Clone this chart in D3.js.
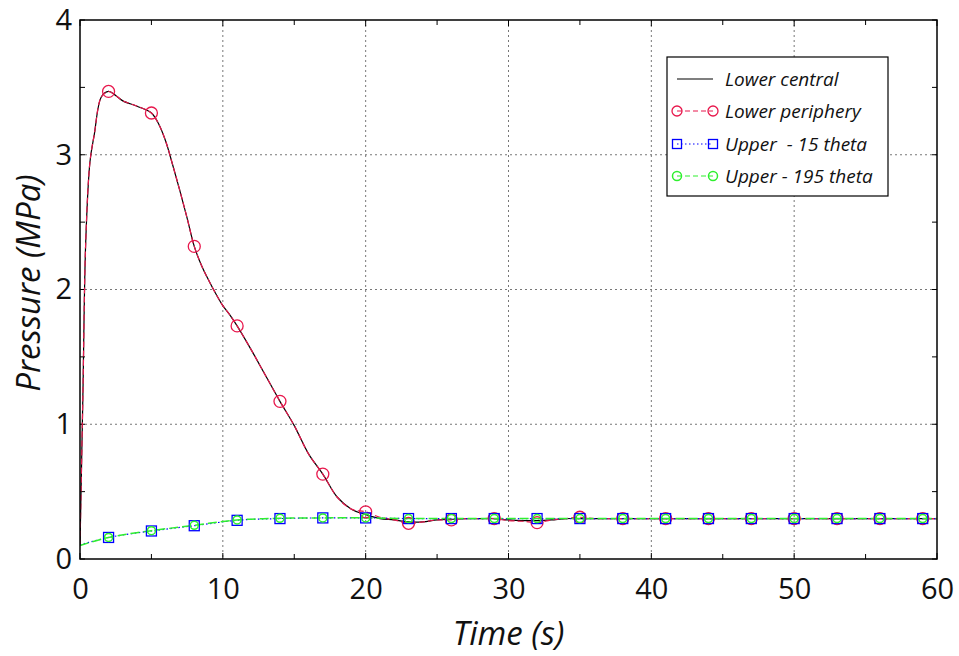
<!DOCTYPE html>
<html><head><meta charset="utf-8">
<script src="https://cdn.jsdelivr.net/npm/d3@7"></script>
<style>
body{margin:0;background:#fff;}
svg{display:block;}
text{font-family:"Open Sans","DejaVu Sans",sans-serif;}
</style></head>
<body><svg id="c" width="959" height="656"></svg>
<script>
// ---- data ----
const lowerTime = [0,0.2,0.4,0.7,1,1.5,2,2.5,3,4,5,5.5,6,6.5,7,7.5,8,8.5,9,9.5,10,10.5,11,12,13,14,15,16,17,18,19,20,21,22,23,24,25,26,27,28,29,30,31,32,33,34,35,36,37,38,39,40,41,42,43,44,45,46,47,48,49,50,51,52,53,54,55,56,57,58,59,60];
const lowerCentral = [0.10,1.20,2.35,2.95,3.15,3.43,3.47,3.44,3.40,3.36,3.31,3.23,3.10,2.92,2.73,2.53,2.32,2.18,2.07,1.97,1.88,1.81,1.73,1.55,1.36,1.17,0.99,0.78,0.63,0.46,0.37,0.33,0.30,0.29,0.275,0.275,0.29,0.295,0.30,0.30,0.30,0.29,0.285,0.285,0.29,0.30,0.30,0.30,0.30,0.30,0.30,0.30,0.30,0.30,0.30,0.30,0.30,0.30,0.30,0.30,0.30,0.30,0.30,0.30,0.30,0.30,0.30,0.30,0.30,0.30,0.30,0.30];
const lowerPeriphery = [0.10,1.20,2.35,2.95,3.15,3.43,3.47,3.44,3.40,3.36,3.31,3.23,3.10,2.92,2.73,2.53,2.32,2.18,2.07,1.97,1.88,1.81,1.73,1.55,1.36,1.17,0.99,0.78,0.63,0.46,0.37,0.35,0.31,0.29,0.265,0.275,0.29,0.29,0.30,0.30,0.30,0.285,0.28,0.27,0.29,0.30,0.31,0.30,0.30,0.30,0.30,0.30,0.30,0.30,0.30,0.30,0.30,0.30,0.30,0.30,0.30,0.30,0.30,0.30,0.30,0.30,0.30,0.30,0.30,0.30,0.30,0.30];
const upperTime = [0,2,5,8,11,14,17,20,23,26,29,32,35,38,41,44,47,50,53,56,59,60];
const upper15 = [0.105,0.16,0.208,0.247,0.287,0.300,0.305,0.305,0.30,0.30,0.30,0.30,0.30,0.30,0.30,0.30,0.30,0.30,0.30,0.30,0.30,0.30];
const upper195 = [0.100,0.16,0.210,0.250,0.290,0.302,0.305,0.305,0.30,0.30,0.30,0.30,0.30,0.30,0.30,0.30,0.30,0.30,0.30,0.30,0.30,0.30];
const markerTimes = [2,5,8,11,14,17,20,23,26,29,32,35,38,41,44,47,50,53,56,59];
const xTicks = [0,10,20,30,40,50,60];
const yTicks = [0,1,2,3,4];
const seriesNames = ["Lower central","Lower periphery","Upper  - 15 theta","Upper - 195 theta"];
const xLabel = "Time (s)";
const yLabel = "Pressure (MPa)";

// ---- layout ----
const svg = d3.select("#c");
const L=80, R=937, T=20, B=559;
const x = d3.scaleLinear().domain([0,60]).range([L,R]);
const y = d3.scaleLinear().domain([0,4]).range([B,T]);
const red="#e8174c", blue="#0000ff", green="#2ef02e";

// grid
const grid = svg.append("g").attr("stroke","#777").attr("stroke-width",1).attr("stroke-dasharray","2,3");
xTicks.slice(1,-1).forEach(v=>grid.append("line").attr("x1",x(v)).attr("x2",x(v)).attr("y1",T).attr("y2",B));
yTicks.slice(1,-1).forEach(v=>grid.append("line").attr("y1",y(v)).attr("y2",y(v)).attr("x1",L).attr("x2",R));

// minor / major ticks inward on all sides
const tk = svg.append("g").attr("stroke","#000").attr("stroke-width",1);
d3.range(0,61,5).forEach(v=>{
  const len = v%10===0?6:5;
  tk.append("line").attr("x1",x(v)).attr("x2",x(v)).attr("y1",B).attr("y2",B-len);
  tk.append("line").attr("x1",x(v)).attr("x2",x(v)).attr("y1",T).attr("y2",T+len);
});
d3.range(0,4.01,0.5).forEach(v=>{
  const len = 5;
  tk.append("line").attr("y1",y(v)).attr("y2",y(v)).attr("x1",L).attr("x2",L+len);
  tk.append("line").attr("y1",y(v)).attr("y2",y(v)).attr("x1",R).attr("x2",R-len);
});

// axes labels via d3 axes
const xAxis = svg.append("g").attr("transform",`translate(0,${B})`)
  .call(d3.axisBottom(x).tickValues(xTicks).tickSize(0).tickPadding(19).tickFormat(d3.format("d")));
xAxis.select(".domain").remove();
xAxis.selectAll("text").attr("font-size",29).attr("fill","#111");
const yAxis = svg.append("g").attr("transform",`translate(${L},0)`)
  .call(d3.axisLeft(y).tickValues(yTicks).tickSize(0).tickPadding(8).tickFormat(d3.format("d")));
yAxis.select(".domain").remove();
yAxis.selectAll("text").attr("font-size",29).attr("fill","#111");

// lines
svg.append("clipPath").attr("id","pc").append("rect").attr("x",L).attr("y",T).attr("width",R-L).attr("height",B-T);
const plot = svg.append("g").attr("clip-path","url(#pc)");
const line = d3.line().x(d=>x(d[0])).y(d=>y(d[1])).curve(d3.curveCatmullRom.alpha(0.5));
const lc = lowerTime.map((t,i)=>[t,lowerCentral[i]]);
const lp = lowerTime.map((t,i)=>[t,lowerPeriphery[i]]);
const u15 = upperTime.map((t,i)=>[t,upper15[i]]);
const u195 = upperTime.map((t,i)=>[t,upper195[i]]);

plot.append("path").attr("d",line(lc)).attr("fill","none").attr("stroke","#000").attr("stroke-width",1.2);
plot.append("path").attr("d",line(lp)).attr("fill","none").attr("stroke",red).attr("stroke-width",1.2).attr("stroke-dasharray","6,3");
plot.append("path").attr("d",line(u15)).attr("fill","none").attr("stroke",blue).attr("stroke-width",1.2).attr("stroke-dasharray","1.5,2.5");
plot.append("path").attr("d",line(u195)).attr("fill","none").attr("stroke",green).attr("stroke-width",1.5).attr("stroke-dasharray","9,4");

// markers
const mk = svg.append("g").attr("fill","none");
lp.filter(d=>markerTimes.includes(d[0])).forEach(d=>
  mk.append("circle").attr("cx",x(d[0])).attr("cy",y(d[1])).attr("r",6).attr("stroke",red).attr("stroke-width",1.3));
u15.filter(d=>markerTimes.includes(d[0])).forEach(d=>
  mk.append("rect").attr("x",x(d[0])-5).attr("y",y(d[1])-5).attr("width",10).attr("height",10).attr("stroke",blue).attr("stroke-width",1.3));
u195.filter(d=>markerTimes.includes(d[0])).forEach(d=>
  mk.append("circle").attr("cx",x(d[0])).attr("cy",y(d[1])).attr("r",4).attr("stroke",green).attr("stroke-width",1.5));

// frame
svg.append("rect").attr("x",L).attr("y",T).attr("width",R-L).attr("height",B-T).attr("fill","none").attr("stroke","#000").attr("stroke-width",1.5);

// axis titles
svg.append("text").attr("x",(L+R)/2).attr("y",645).attr("text-anchor","middle").attr("font-size",33).attr("font-style","italic").attr("fill","#111").text(xLabel);
svg.append("text").attr("transform",`translate(40,283) rotate(-90)`).attr("text-anchor","middle").attr("font-size",33).attr("font-style","italic").attr("fill","#111").text(yLabel);

// legend
const lg = svg.append("g");
lg.append("rect").attr("x",667).attr("y",57).attr("width",221).attr("height",139).attr("fill","#fff").attr("stroke","#000").attr("stroke-width",1.2);
const rows=[79,111,144,176];
const x1=677, x2=713;
const styles=[
  {stroke:"#000",dash:null,m:null},
  {stroke:red,dash:"5,3",m:"circle"},
  {stroke:blue,dash:"1.5,2.5",m:"square"},
  {stroke:green,dash:"5,3",m:"gcircle"}];
seriesNames.forEach((n,i)=>{
  const s=styles[i], yy=rows[i];
  const ln = lg.append("line").attr("x1",x1).attr("x2",x2).attr("y1",yy).attr("y2",yy).attr("stroke",s.stroke).attr("stroke-width",1.2);
  if(s.dash) ln.attr("stroke-dasharray",s.dash);
  [x1,x2].forEach(cx=>{
    if(s.m==="circle") lg.append("circle").attr("cx",cx).attr("cy",yy).attr("r",5).attr("fill","none").attr("stroke",red).attr("stroke-width",1.3);
    if(s.m==="square") lg.append("rect").attr("x",cx-4.5).attr("y",yy-4.5).attr("width",9).attr("height",9).attr("fill","none").attr("stroke",blue).attr("stroke-width",1.3);
    if(s.m==="gcircle") lg.append("circle").attr("cx",cx).attr("cy",yy).attr("r",4.5).attr("fill","none").attr("stroke",green).attr("stroke-width",1.5);
  });
  lg.append("text").attr("x",725).attr("y",yy+7).attr("font-size",19).attr("font-style","italic").attr("fill","#111").style("white-space","pre").text(n);
});
</script></body></html>
